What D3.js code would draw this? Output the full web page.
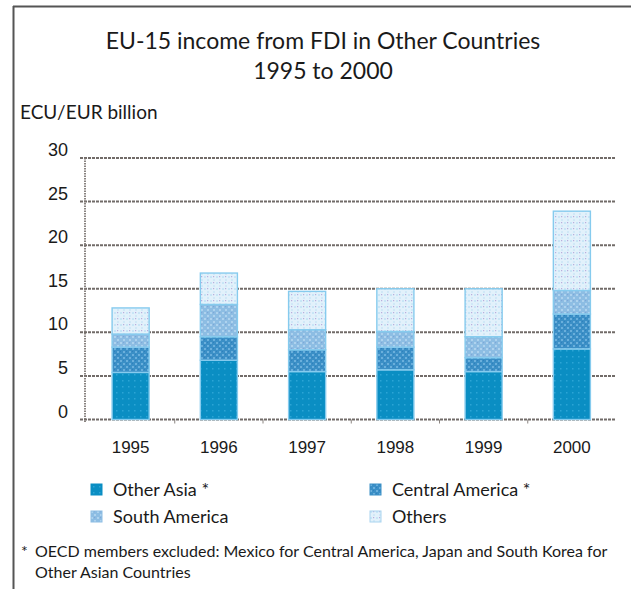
<!DOCTYPE html>
<html>
<head>
<meta charset="utf-8">
<script src="https://cdn.jsdelivr.net/npm/d3@7"></script>
<style>
  body { margin: 0; background: #fff; }
  svg { display: block; }
  .tick-y, .tick-x { font-family: "Liberation Sans", Arial, sans-serif; fill: #1a1a1a; }
  .futura { font-family: Lato, "Open Sans", sans-serif; fill: #1a1a1a; }
</style>
</head>
<body>
<div id="chart"></div>
<script>
var w = 631;
var h = 589;

// chart values, ECU/EUR billion
var years = ["1995", "1996", "1997", "1998", "1999", "2000"];
var seriesNames = ["Other Asia *", "Central America *", "South America", "Others"];
var otherAsia      = [5.4, 6.8, 5.5, 5.7, 5.5, 8.1];
var centralAmerica = [2.9, 2.7, 2.5, 2.6, 1.6, 4.0];
var southAmerica   = [1.5, 3.7, 2.3, 1.8, 2.4, 2.7];
var others         = [3.0, 3.6, 4.4, 4.9, 5.5, 9.1];
var yTicks = [0, 5, 10, 15, 20, 25, 30];

var plotLeft = 86.5, plotRight = 616;
var plotTop = 158, plotBottom = 419.5;

var svg = d3.select("#chart")
  .append("svg")
  .attr("width", w)
  .attr("height", h);

// patterns, one per series
var defs = svg.append("defs");

function makePattern(id, base, dots) {
  var p = defs.append("pattern")
    .attr("id", id)
    .attr("width", 6).attr("height", 6)
    .attr("patternUnits", "userSpaceOnUse");
  p.append("rect").attr("width", 6).attr("height", 6).attr("fill", base);
  dots.forEach(function(d) {
    p.append("rect")
      .attr("x", d[0]).attr("y", d[1])
      .attr("width", d[2]).attr("height", d[2])
      .attr("fill", d[3]);
  });
}

makePattern("pOA", "#0a8ec3", [[2, 2, 1.5, "#2ba5d6"]]);
makePattern("pCA", "#3b8fc6", [[0, 0, 2, "#6aafdc"], [3, 3, 2, "#6aafdc"], [3, 0, 1, "#2f7fbd"], [0, 3, 1, "#2f7fbd"]]);
makePattern("pSA", "#8dbde3", [[0, 0, 2, "#aed2ee"], [3, 3, 2, "#aed2ee"], [3, 0, 1.2, "#7fa6d8"]]);
makePattern("pOT", "#e2f1fb", [[0, 0, 2, "#c8e5f6"], [3, 3, 2, "#d0e8f7"], [3, 0, 1.2, "#b9acdc"]]);

var fills = ["url(#pOA)", "url(#pCA)", "url(#pSA)", "url(#pOT)"];
var legendStrokes = ["#0a8ec3", "#3b8fc6", "#8dbde3", "#a9d4ef"];

// frame lines (top and left)
svg.append("line")
  .attr("x1", 13).attr("x2", w).attr("y1", 6.5).attr("y2", 6.5)
  .attr("stroke", "#555").attr("stroke-width", 2);
svg.append("line")
  .attr("x1", 13.5).attr("x2", 13.5).attr("y1", 6).attr("y2", h)
  .attr("stroke", "#555").attr("stroke-width", 2);

// titles
svg.append("text")
  .attr("class", "futura")
  .attr("x", 323).attr("y", 49)
  .attr("text-anchor", "middle")
  .style("font-size", "23px")
  .text("EU-15 income from FDI in Other Countries");
svg.append("text")
  .attr("class", "futura")
  .attr("x", 323).attr("y", 79)
  .attr("text-anchor", "middle")
  .style("font-size", "23px")
  .text("1995 to 2000");
svg.append("text")
  .attr("class", "futura")
  .attr("x", 20).attr("y", 119)
  .style("font-size", "19px")
  .text("ECU/EUR billion");

// scales
var x = d3.scaleBand()
  .domain(years)
  .range([plotLeft, plotRight])
  .padding(0);

var y = d3.scaleLinear()
  .domain([0, 30])
  .range([plotBottom, plotTop]);

var barW = x.bandwidth() * 0.42;

// gridlines
svg.append("g")
  .selectAll("line")
  .data(yTicks)
  .enter().append("line")
  .attr("x1", 80).attr("x2", plotRight)
  .attr("y1", function(d) { return y(d); })
  .attr("y2", function(d) { return y(d); })
  .attr("stroke", "#716b68")
  .attr("stroke-width", 2)
  .attr("stroke-dasharray", "3,1");

// y axis line
svg.append("line")
  .attr("x1", 85).attr("x2", 85)
  .attr("y1", plotTop).attr("y2", plotBottom + 3)
  .attr("stroke", "#7d7773")
  .attr("stroke-width", 1.8)
  .attr("stroke-dasharray", "1.5,1");

// x tick marks at band boundaries
svg.append("g")
  .selectAll("line")
  .data(years.slice(1))
  .enter().append("line")
  .attr("x1", function(d) { return x(d); })
  .attr("x2", function(d) { return x(d); })
  .attr("y1", plotBottom).attr("y2", plotBottom + 4)
  .attr("stroke", "#8a8480")
  .attr("stroke-width", 1);

// y tick labels
svg.append("g")
  .selectAll("text")
  .data(yTicks)
  .enter().append("text")
  .attr("class", "tick-y")
  .attr("x", 68)
  .attr("y", function(d) { return y(d) - 2; })
  .attr("text-anchor", "end")
  .style("font-size", "18px")
  .text(function(d) { return d; });

// x tick labels
svg.append("g")
  .selectAll("text")
  .data(years)
  .enter().append("text")
  .attr("class", "tick-x")
  .attr("x", function(d) { return x(d) + x.bandwidth() / 2; })
  .attr("y", 453)
  .attr("text-anchor", "middle")
  .style("font-size", "17px")
  .text(function(d) { return d; });

// stacked bars
var table = years.map(function(yr, i) {
  return { year: yr, s0: otherAsia[i], s1: centralAmerica[i], s2: southAmerica[i], s3: others[i] };
});
var stack = d3.stack().keys(["s0", "s1", "s2", "s3"]);
var layers = stack(table);

svg.append("g")
  .selectAll("g")
  .data(layers)
  .enter().append("g")
  .attr("fill", function(d, i) { return fills[i]; })
  .selectAll("rect")
  .data(function(d) { return d; })
  .enter().append("rect")
  .attr("x", function(d) { return x(d.data.year) + (x.bandwidth() - barW) / 2; })
  .attr("y", function(d) { return y(d[1]); })
  .attr("width", barW)
  .attr("height", function(d) { return y(d[0]) - y(d[1]); })
  .attr("stroke", "#86cbee")
  .attr("stroke-width", 1.4);

// legend
var legendPos = [[91, 490], [370, 490], [91, 517], [370, 517]];
var legend = svg.append("g")
  .selectAll("g")
  .data(seriesNames)
  .enter().append("g")
  .attr("transform", function(d, i) {
    return "translate(" + legendPos[i][0] + "," + legendPos[i][1] + ")";
  });
legend.append("rect")
  .attr("x", 0).attr("y", -6)
  .attr("width", 11).attr("height", 11)
  .attr("fill", function(d, i) { return fills[i]; })
  .attr("stroke", function(d, i) { return legendStrokes[i]; })
  .attr("stroke-width", 1);
legend.append("text")
  .attr("class", "futura")
  .attr("x", 22).attr("y", 6)
  .style("font-size", "18px")
  .text(function(d) { return d; });

// footnote
svg.append("text")
  .attr("class", "futura")
  .attr("x", 21).attr("y", 557)
  .style("font-size", "16px")
  .text("*");
svg.append("text")
  .attr("class", "futura")
  .attr("x", 35).attr("y", 557)
  .style("font-size", "16px")
  .text("OECD members excluded: Mexico for Central America, Japan and South Korea for");
svg.append("text")
  .attr("class", "futura")
  .attr("x", 35).attr("y", 578)
  .style("font-size", "16px")
  .text("Other Asian Countries");
</script>
</body>
</html>
